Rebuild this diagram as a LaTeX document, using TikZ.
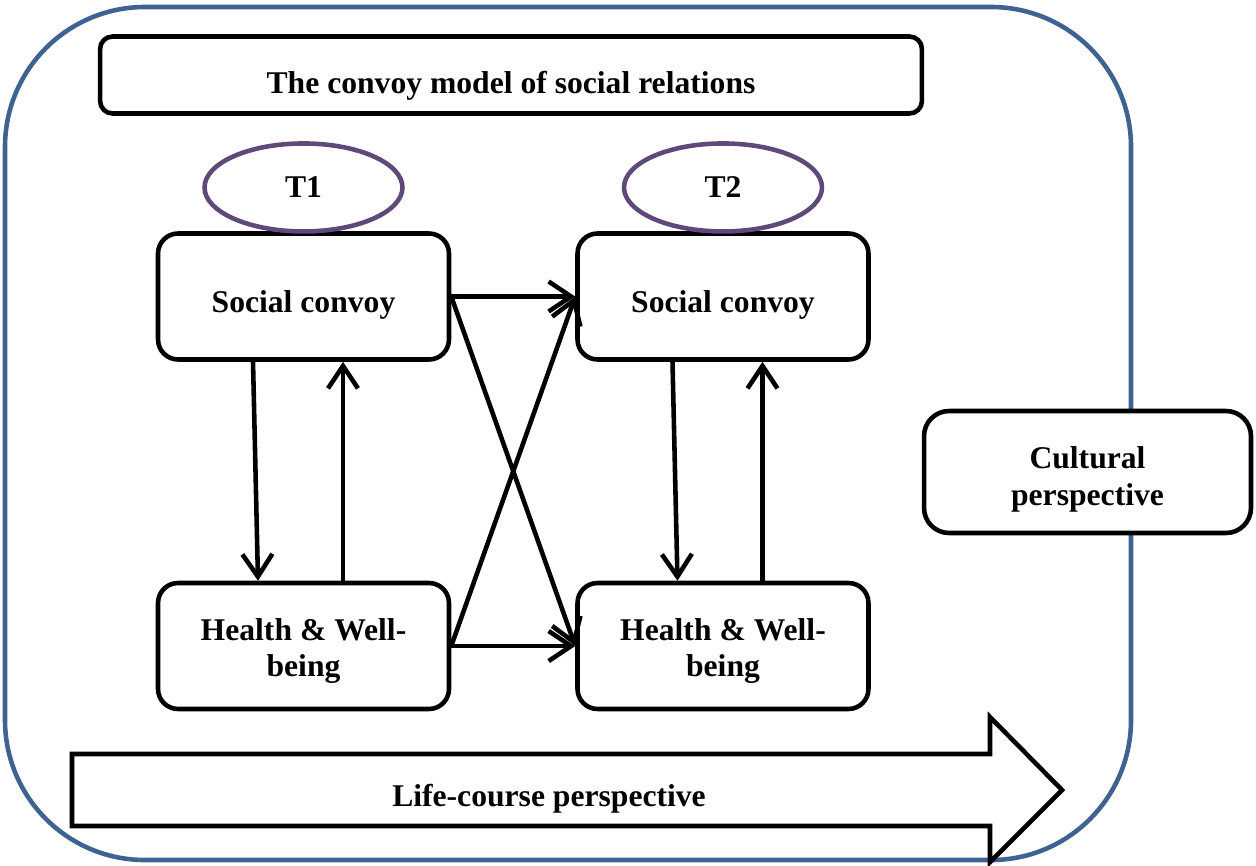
\documentclass[tikz,border=0pt]{standalone}
\usepackage{fontspec}
\setmainfont{Liberation Serif}
\usetikzlibrary{arrows.meta,positioning,shapes.geometric}
\definecolor{cvblue}{HTML}{3F6391}
\definecolor{cvpurple}{HTML}{5F497A}

\begin{document}
\begin{tikzpicture}[x=0.02cm,y=-0.02cm,
    b/.style={draw,line width=2.6pt,fill=white,rounded corners=4mm,minimum width=5.82cm,
    minimum height=2.52cm,align=center,font=\fontsize{18}{20.5}\selectfont\bfseries},
    t/.style={draw=cvpurple,line width=2.6pt,ellipse,minimum width=3.96cm,minimum height=1.76cm,
    inner sep=0pt,font=\fontsize{18}{21}\selectfont\bfseries},
    a/.style={-{Straight Barb[length=4.5mm,width=6mm]},line width=2.6pt}]
    \useasboundingbox (0,0) rectangle (1256,865);
    \draw[cvblue,line width=2.6pt,rounded corners=2.8cm] (5,7) rectangle (1131,860);
    \node[b,rounded corners=2.5mm,minimum width=16.44cm,minimum height=1.54cm,
      text height=24.5pt,text depth=4pt] (m) at (511,75) {The convoy model of social relations};
    \node[b,text height=22pt,text depth=4pt] (s1) at (303.5,296.5) {Social convoy};
    \node[b,text height=22pt,text depth=4pt,right=2.48cm of s1] (s2) {Social convoy};
    \node[b,below=4.38cm of s1] (h1) {\rule{0pt}{18pt}Health \& Well-\\being};
    \node[b,right=2.48cm of h1] (h2) {\rule{0pt}{18pt}Health \& Well-\\being};
    \node[t,above=-0.05cm of s1] (t1) {T1};
    \node[t,above=-0.05cm of s2] (t2) {T2};
    \node[b,rounded corners=5mm,minimum width=6.54cm,minimum height=2.44cm,
      font=\fontsize{18}{21}\selectfont\bfseries] (c) at (1087.5,472)
      {\rule{0pt}{21pt}Cultural\\perspective};
    \draw[a] ([xshift=-1.01cm]s1.south)--([xshift=-0.91cm]h1.north);
    \draw[a] ([xshift=0.79cm]h1.north)--([xshift=0.79cm]s1.south);
    \draw[a] ([xshift=-1.01cm]s2.south)--([xshift=-0.91cm]h2.north);
    \draw[a] ([xshift=0.79cm]h2.north)--([xshift=0.79cm]s2.south);
    \draw[a] (s1.east)--(s2.west); \draw[a] (h1.east)--(h2.west);
    \draw[a] (s1.east)--(h2.west); \draw[a] (h1.east)--(s2.west);
    \draw[line width=2.6pt,fill=white] (72,754)--(990,754)--(990,717)--(1062,790)--(990,862)
      --(990,826)--(72,826)--cycle;
    \node[font=\fontsize{18}{21}\selectfont\bfseries] (l) at (549,799) {Life-course perspective};
\end{tikzpicture}
\end{document}
